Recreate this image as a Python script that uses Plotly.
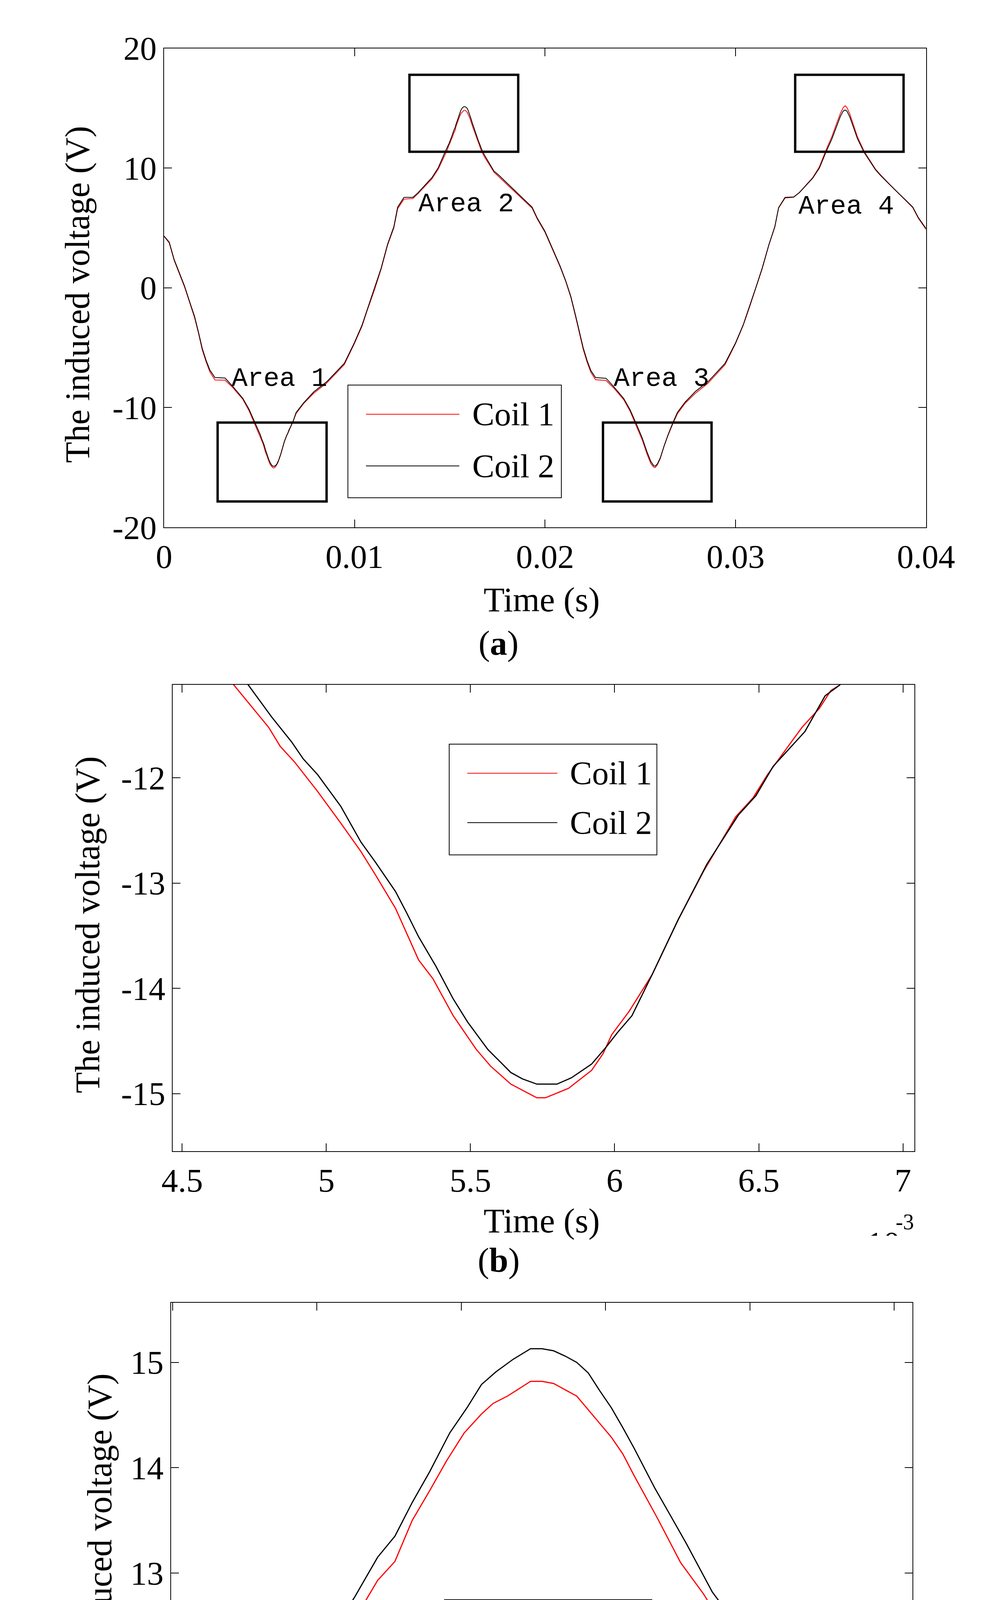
import numpy as np
import plotly.graph_objects as go

# ---- panel (a): full 0-40 ms trace, time in ms ----
T_A_MS = [0.00, 0.27, 0.53, 0.80, 1.07, 1.33, 1.60, 1.80, 2.00, 2.20, 2.40, 2.67, 3.20, 3.60, 4.13, 4.46,
          4.73, 4.81, 4.92, 4.97, 5.05, 5.12, 5.17, 5.24, 5.32, 5.38, 5.44, 5.49, 5.56, 5.64, 5.68, 5.73,
          5.78, 5.85, 5.92, 5.97, 6.01, 6.05, 6.13, 6.22, 6.31, 6.43, 6.49, 6.55, 6.66, 6.73, 6.78, 6.93,
          7.33, 7.86, 8.53, 9.46, 9.99, 10.39, 10.66, 11.06, 11.39, 11.73, 12.06, 12.26, 12.59, 13.06, 13.32,
          14.06, 14.39, 14.69, 14.76, 14.82, 14.87, 14.95, 15.01, 15.07, 15.13, 15.21, 15.27, 15.33, 15.39,
          15.46, 15.52, 15.57, 15.61, 15.66, 15.70, 15.74, 15.78, 15.82, 15.86, 15.90, 15.94, 15.98, 16.02,
          16.06, 16.10, 16.17, 16.22, 16.28, 16.37, 16.43, 16.50, 16.57, 16.65, 16.73, 16.79, 16.81, 17.32,
          17.59, 18.12, 19.32, 19.59, 19.99,
          20.39, 20.79, 21.08, 21.35, 21.60, 21.80, 22.00, 22.20, 22.40, 22.65, 23.20, 23.60, 24.13, 24.46,
          24.80, 25.10, 25.35, 25.55, 25.70, 25.78, 25.90, 26.05, 26.25, 26.45, 26.70, 26.95, 27.35, 27.90,
          28.55, 29.45, 30.00, 30.40, 30.70, 31.06, 31.40, 31.75, 32.06, 32.26, 32.60, 33.05, 33.35, 34.05,
          34.40, 34.75, 35.05, 35.30, 35.50, 35.65, 35.75, 35.85, 36.00, 36.20, 36.40, 36.75, 37.35, 37.60,
          38.10, 39.30, 39.60, 40.00]
V_A_COIL2 = [4.32, 3.81, 2.35, 1.26, 0.16, -1.11, -2.39, -3.67, -5.04, -6.04, -6.86, -7.50, -7.54, -8.23, -9.23, -10.15,
             -11.12, -11.42, -11.82, -11.97, -12.27, -12.61, -12.80, -13.08, -13.51, -13.79, -14.10, -14.32, -14.58, -14.80, -14.86, -14.91,
             -14.91, -14.85, -14.72, -14.56, -14.42, -14.26, -13.87, -13.35, -12.85, -12.35, -12.17, -11.89, -11.56, -11.22, -11.12, -10.42,
             -9.60, -8.69, -7.86, -6.31, -4.58, -3.12, -1.84, -0.02, 1.62, 3.63, 5.09, 6.73, 7.55, 7.55, 7.92,
             9.20, 10.02, 11.13, 11.39, 11.59, 11.75, 12.01, 12.25, 12.51, 12.77, 13.15, 13.35, 13.67, 13.96,
             14.33, 14.57, 14.79, 14.91, 15.03, 15.08, 15.13, 15.13, 15.11, 15.06, 15.00, 14.90, 14.73, 14.57,
             14.38, 14.18, 13.81, 13.57, 13.28, 12.82, 12.60, 12.27, 11.99, 11.64, 11.37, 11.20, 11.11, 9.74,
             9.38, 8.56, 6.73, 5.82, 4.73,
             3.27, 1.81, 0.60, -0.70, -2.30, -3.60, -5.00, -6.05, -6.90, -7.50, -7.56, -8.25, -9.25, -10.18,
             -11.40, -12.55, -13.70, -14.50, -14.85, -14.90, -14.70, -14.20, -13.20, -12.30, -11.30, -10.40, -9.55, -8.65,
             -7.85, -6.30, -4.60, -3.10, -1.70, 0.00, 1.65, 3.60, 5.10, 6.70, 7.55, 7.58, 7.95, 9.15,
             10.00, 11.35, 12.40, 13.45, 14.30, 14.75, 14.85, 14.75, 14.25, 13.35, 12.45, 11.30, 9.85, 9.40,
             8.60, 6.75, 5.85, 4.95]
V_A_COIL1 = [4.30, 3.74, 2.28, 1.18, 0.08, -1.17, -2.50, -3.76, -5.16, -6.16, -7.02, -7.70, -7.72, -8.32, -9.31, -10.27,
             -11.28, -11.52, -11.97, -12.13, -12.43, -12.70, -12.92, -13.26, -13.73, -13.95, -14.26, -14.45, -14.74, -14.91, -14.98, -15.04,
             -15.04, -14.95, -14.78, -14.62, -14.44, -14.22, -13.87, -13.35, -12.88, -12.37, -12.19, -11.97, -11.52, -11.34, -11.12, -10.50,
             -9.66, -8.80, -7.96, -6.42, -4.66, -3.21, -1.91, -0.10, 1.54, 3.55, 5.00, 6.60, 7.40, 7.45, 7.85,
             9.10, 9.90, 10.92, 11.15, 11.37, 11.53, 11.90, 12.10, 12.36, 12.56, 12.93, 13.11, 13.50, 13.78,
             14.07, 14.33, 14.51, 14.61, 14.68, 14.75, 14.82, 14.82, 14.80, 14.74, 14.68, 14.55, 14.42, 14.29,
             14.13, 13.92, 13.56, 13.35, 13.10, 12.70, 12.40, 12.09, 11.79, 11.47, 11.20, 11.00, 10.95, 9.65,
             9.25, 8.45, 6.65, 5.75, 4.65,
             3.20, 1.75, 0.55, -0.78, -2.40, -3.72, -5.12, -6.18, -7.05, -7.68, -7.74, -8.36, -9.35, -10.30,
             -11.55, -12.70, -13.88, -14.68, -14.98, -15.02, -14.78, -14.25, -13.22, -12.35, -11.38, -10.52, -9.65, -8.80,
             -7.98, -6.42, -4.66, -3.15, -1.78, -0.06, 1.60, 3.58, 5.06, 6.66, 7.50, 7.56, 7.95, 9.20,
             10.10, 11.50, 12.60, 13.70, 14.55, 15.05, 15.20, 15.05, 14.50, 13.55, 12.60, 11.40, 9.90, 9.45,
             8.62, 6.70, 5.80, 4.88]

# marked areas in (a)
AREA_NAMES = ["Area 1", "Area 2", "Area 3", "Area 4"]
AREA_LABEL_T_MS = [6.06, 15.86, 26.12, 35.82]
AREA_LABEL_V = [-7.6, 7.0, -7.6, 6.8]
AREA_BOX_T0_MS = [2.81, 12.88, 23.04, 33.13]
AREA_BOX_T1_MS = [8.53, 18.59, 28.74, 38.82]
AREA_BOX_V0 = [-17.85, 11.36, -17.85, 11.36]
AREA_BOX_V1 = [-11.26, 17.79, -11.26, 17.79]

# ---- panel (b): valley detail ----
T_B_COIL1_MS = [4.62, 4.68, 4.80, 4.84, 4.89, 4.97, 5.05, 5.12, 5.17, 5.24, 5.32, 5.37, 5.44, 5.52, 5.57, 5.64,
                5.73, 5.76, 5.84, 5.92, 5.96, 5.99, 6.05, 6.13, 6.22, 6.31, 6.42, 6.48, 6.53, 6.65, 6.71, 6.75,
                6.78, 6.83]
V_B_COIL1 = [-10.90, -11.12, -11.52, -11.70, -11.85, -12.13, -12.43, -12.70, -12.92, -13.24, -13.73, -13.91, -14.26,
             -14.58, -14.74, -14.91, -15.04, -15.04, -14.95, -14.78, -14.62, -14.44, -14.22, -13.87, -13.35, -12.88,
             -12.37, -12.19, -11.97, -11.52, -11.34, -11.17, -11.12, -10.90]
T_B_COIL2_MS = [4.67, 4.73, 4.81, 4.88, 4.92, 4.97, 5.05, 5.12, 5.17, 5.24, 5.28, 5.32, 5.38, 5.44, 5.49, 5.56,
                5.64, 5.68, 5.73, 5.80, 5.85, 5.92, 5.97, 6.01, 6.06, 6.13, 6.22, 6.32, 6.43, 6.49, 6.55, 6.66,
                6.73, 6.78, 6.83]
V_B_COIL2 = [-10.90, -11.12, -11.42, -11.66, -11.82, -11.97, -12.27, -12.61, -12.80, -13.08, -13.29, -13.51, -13.79,
             -14.10, -14.32, -14.58, -14.80, -14.86, -14.91, -14.91, -14.85, -14.72, -14.56, -14.42, -14.26, -13.87,
             -13.35, -12.82, -12.35, -12.17, -11.89, -11.56, -11.22, -11.12, -10.95]

# ---- panel (c): peak detail ----
T_C_COIL1_MS = [14.72, 14.75, 14.78, 14.81, 14.85, 14.89, 14.95, 15.01, 15.07, 15.13, 15.21, 15.27, 15.33, 15.39,
                15.45, 15.51, 15.57, 15.61, 15.66, 15.70, 15.74, 15.78, 15.82, 15.86, 15.90, 15.94, 15.98, 16.02,
                16.06, 16.10, 16.18, 16.26, 16.34, 16.41, 16.47, 16.52, 16.59, 16.66, 16.71, 16.77, 16.80]
V_C_COIL1 = [11.00, 11.12, 11.24, 11.37, 11.53, 11.68, 11.90, 12.10, 12.36, 12.56, 12.93, 13.11, 13.50, 13.78,
             14.07, 14.33, 14.51, 14.61, 14.68, 14.75, 14.82, 14.82, 14.80, 14.74, 14.68, 14.55, 14.42, 14.29,
             14.13, 13.92, 13.52, 13.10, 12.80, 12.49, 12.27, 12.05, 11.75, 11.50, 11.35, 11.12, 11.00]
T_C_COIL2_MS = [14.66, 14.69, 14.76, 14.82, 14.87, 14.95, 15.01, 15.07, 15.13, 15.21, 15.27, 15.33, 15.39, 15.46,
                15.52, 15.57, 15.62, 15.68, 15.74, 15.78, 15.82, 15.86, 15.90, 15.94, 15.98, 16.02, 16.06, 16.10,
                16.17, 16.22, 16.28, 16.37, 16.43, 16.50, 16.57, 16.65, 16.73, 16.79, 16.81, 16.84]
V_C_COIL2 = [11.00, 11.13, 11.39, 11.59, 11.75, 12.01, 12.25, 12.51, 12.77, 13.15, 13.35, 13.67, 13.96, 14.33,
             14.57, 14.79, 14.91, 15.03, 15.13, 15.13, 15.11, 15.06, 15.00, 14.90, 14.73, 14.57, 14.38, 14.18,
             13.81, 13.57, 13.28, 12.82, 12.60, 12.27, 11.99, 11.64, 11.37, 11.20, 11.11, 11.00]

# tick labels
A_XTICKS = [0, 0.01, 0.02, 0.03, 0.04]
A_XTEXT = ["0", "0.01", "0.02", "0.03", "0.04"]
A_YTICKS = [-20, -10, 0, 10, 20]
A_YTEXT = ["-20", "-10", "0", "10", "20"]
B_XTICKS = [0.0045, 0.005, 0.0055, 0.006, 0.0065, 0.007]
B_XTEXT = ["4.5", "5", "5.5", "6", "6.5", "7"]
B_YTICKS = [-15, -14, -13, -12]
B_YTEXT = ["-15", "-14", "-13", "-12"]
C_XTICKS = [0.0145, 0.015, 0.0155, 0.016, 0.0165, 0.017]
C_XTEXT = ["0.0145", "0.015", "0.0155", "0.016", "0.0165", "0.017"]
C_YTICKS = [12, 13, 14, 15]
C_YTEXT = ["12", "13", "14", "15"]

RED = "#ff0000"
BLACK = "#000000"
SERIF = "Liberation Serif"

# page is drawn inside the default 8px body margin
OFF = 8
W, H = 2537 - 2 * OFF, 4935 - 2 * OFF


def px(x):
    return (x - OFF) / W


def py(y):
    return 1 - (y - OFF) / H


def ms(vals):
    return np.array(vals) * 1e-3


def axis_style(rng, tickvals, ticktext, domain, anchor):
    return dict(range=rng, domain=domain, anchor=anchor, tickvals=tickvals, ticktext=ticktext,
                ticks="inside", ticklen=20, tickwidth=2, tickcolor="black",
                showline=True, linecolor="black", linewidth=2, mirror="ticks",
                showgrid=False, zeroline=False,
                tickfont=dict(family=SERIF, size=85, color="black"))


fig = go.Figure()

fig.add_trace(go.Scatter(x=ms(T_A_MS), y=V_A_COIL1, mode="lines", line=dict(color=RED, width=2),
                         name="Coil 1", xaxis="x", yaxis="y"))
fig.add_trace(go.Scatter(x=ms(T_A_MS), y=V_A_COIL2, mode="lines", line=dict(color=BLACK, width=2),
                         name="Coil 2", xaxis="x", yaxis="y"))
fig.add_trace(go.Scatter(x=ms(T_B_COIL1_MS), y=V_B_COIL1, mode="lines", line=dict(color=RED, width=3),
                         name="Coil 1", xaxis="x2", yaxis="y2"))
fig.add_trace(go.Scatter(x=ms(T_B_COIL2_MS), y=V_B_COIL2, mode="lines", line=dict(color=BLACK, width=3),
                         name="Coil 2", xaxis="x2", yaxis="y2"))
fig.add_trace(go.Scatter(x=ms(T_C_COIL1_MS), y=V_C_COIL1, mode="lines", line=dict(color=RED, width=3),
                         name="Coil 1", xaxis="x3", yaxis="y3"))
fig.add_trace(go.Scatter(x=ms(T_C_COIL2_MS), y=V_C_COIL2, mode="lines", line=dict(color=BLACK, width=3),
                         name="Coil 2", xaxis="x3", yaxis="y3"))

# panel pixel boxes (left, right, top, bottom)
PA = (332, 2438, 79, 1329)
PB = (356, 2406, 1740, 2957)
PC = (351, 2400, 3353, 4571)

fig.update_layout(
    xaxis=axis_style([0, 0.04], A_XTICKS, A_XTEXT, [px(PA[0]), px(PA[1])], "y"),
    yaxis=axis_style([-20, 20], A_YTICKS, A_YTEXT, [py(PA[3]), py(PA[2])], "x"),
    xaxis2=axis_style([0.0044674, 0.00704], B_XTICKS, B_XTEXT, [px(PB[0]), px(PB[1])], "y2"),
    yaxis2=axis_style([-15.546, -11.115], B_YTICKS, B_YTEXT, [py(PB[3]), py(PB[2])], "x2"),
    xaxis3=axis_style([0.014494, 0.017063], C_XTICKS, C_XTEXT, [px(PC[0]), px(PC[1])], "y3"),
    yaxis3=axis_style([11.136, 15.566], C_YTICKS, C_YTEXT, [py(PC[3]), py(PC[2])], "x3"),
)

shapes = []
annotations = []

# area boxes and labels in (a)
for i, name in enumerate(AREA_NAMES):
    shapes.append(dict(type="rect", xref="x", yref="y",
                       x0=AREA_BOX_T0_MS[i] * 1e-3, x1=AREA_BOX_T1_MS[i] * 1e-3,
                       y0=AREA_BOX_V0[i], y1=AREA_BOX_V1[i],
                       line=dict(color="black", width=6), layer="above"))
    annotations.append(dict(xref="x", yref="y", x=AREA_LABEL_T_MS[i] * 1e-3, y=AREA_LABEL_V[i],
                            text=name, showarrow=False, xanchor="center", yanchor="middle",
                            font=dict(family="Liberation Mono", size=68, color="black")))

# hand-drawn legends (long sample lines)
LEGENDS = [
    dict(box=(840, 1430, 958, 1252), ly=(1034, 1169), lx=(890, 1148), tx=1182),
    dict(box=(1120, 1694, 1895, 2184), ly=(1971, 2100), lx=(1170, 1419), tx=1451),
    dict(box=(1107, 1680, 4128, 4409), ly=(4201, 4332), lx=(1154, 1405), tx=1440),
]
for lg in LEGENDS:
    x0, x1, y0, y1 = lg["box"]
    shapes.append(dict(type="rect", xref="paper", yref="paper", x0=px(x0), x1=px(x1), y0=py(y1), y1=py(y0),
                       line=dict(color="black", width=2), fillcolor="white", layer="above"))
    for yy, col, lab in zip(lg["ly"], [RED, BLACK], ["Coil 1", "Coil 2"]):
        shapes.append(dict(type="line", xref="paper", yref="paper", x0=px(lg["lx"][0]), x1=px(lg["lx"][1]),
                           y0=py(yy), y1=py(yy), line=dict(color=col, width=2), layer="above"))
        annotations.append(dict(xref="paper", yref="paper", x=px(lg["tx"]), y=py(yy), text=lab,
                                showarrow=False, xanchor="left", yanchor="middle",
                                font=dict(family=SERIF, size=85, color="black")))

# axis titles and panel captions
TITLE_FONT = dict(family=SERIF, size=88, color="black")
for yx, yy in [(93, 721), (121, 2366), (154, 3977)]:
    annotations.append(dict(xref="paper", yref="paper", x=px(yx), y=py(yy), text="The induced voltage (V)",
                            textangle=-90, showarrow=False, xanchor="center", yanchor="middle", font=TITLE_FONT))
for xx, yy in [(1375, 1518), (1375, 3139), (1367, 4755)]:
    annotations.append(dict(xref="paper", yref="paper", x=px(xx), y=py(yy), text="Time (s)",
                            showarrow=False, xanchor="center", yanchor="middle", font=TITLE_FONT))
for lab, yy in [("a", 1632), ("b", 3242), ("c", 4862)]:
    annotations.append(dict(xref="paper", yref="paper", x=px(1257), y=py(yy), text="(<b>" + lab + "</b>)",
                            showarrow=False, xanchor="center", yanchor="middle", font=TITLE_FONT))

# x10^-3 exponent of (b), base cut off at the panel edge
annotations.append(dict(xref="paper", yref="paper", x=px(2380), y=py(3142), text="-3",
                        showarrow=False, xanchor="center", yanchor="middle",
                        font=dict(family=SERIF, size=56, color="black")))
annotations.append(dict(xref="paper", yref="paper", x=px(2272), y=py(3148), text="10",
                        showarrow=False, xanchor="left", yanchor="top",
                        font=dict(family=SERIF, size=85, color="black")))
annotations.append(dict(xref="paper", yref="paper", x=px(2255), y=py(3178), text=" ",
                        showarrow=False, xanchor="left", yanchor="top", width=140, height=90,
                        bgcolor="white", font=dict(family=SERIF, size=20, color="white")))

fig.update_layout(
    width=W, height=H,
    margin=dict(l=0, r=0, t=0, b=0),
    paper_bgcolor="white", plot_bgcolor="white",
    showlegend=False,
    shapes=shapes, annotations=annotations,
)

fig.write_html("out.html")
